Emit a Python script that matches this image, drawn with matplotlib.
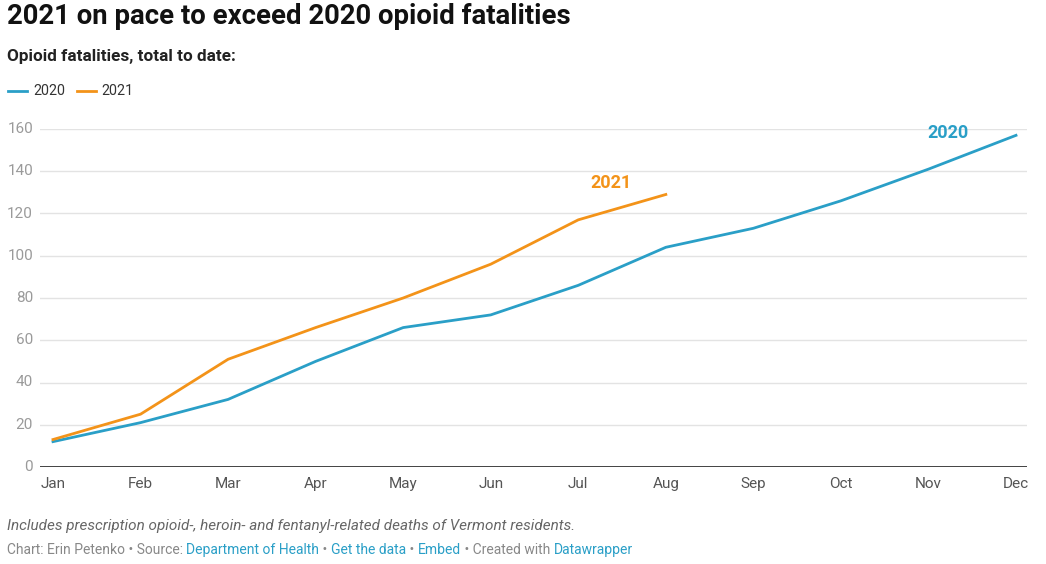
import matplotlib.pyplot as plt

plt.rcParams['font.family'] = ['Roboto', 'DejaVu Sans']

months = ['Jan', 'Feb', 'Mar', 'Apr', 'May', 'Jun', 'Jul', 'Aug', 'Sep', 'Oct', 'Nov', 'Dec']
deaths_2020 = [12, 21, 32, 50, 66, 72, 86, 104, 113, 126, 141, 157]
deaths_2021 = [13, 25, 51, 66, 80, 96, 117, 129]
yticks = [0, 20, 40, 60, 80, 100, 120, 140, 160]

BLUE = '#2a9fc7'
ORANGE = '#f39319'

fig = plt.figure(figsize=(10.46, 5.64), dpi=100)
# axes box: x 40..1027 px, y 129..467 px
ax = fig.add_axes([40 / 1046, 1 - 467 / 564, 987 / 1046, 338 / 564])

x = list(range(len(months)))
ax.plot(x, deaths_2020, color=BLUE, lw=2, clip_on=False, zorder=3)
ax.plot(x[:len(deaths_2021)], deaths_2021, color=ORANGE, lw=2, clip_on=False, zorder=4)

# x range so Jan sits at px 53 and Dec at px 1016
step = (1016 - 53) / 11
ax.set_xlim(-(53 - 40) / step, 11 + (1027 - 1016) / step)
ax.set_ylim(0, 160)

ax.set_yticks(yticks)
ax.set_yticklabels([])
for v in yticks:
    ax.text(-0.007, v, str(v), transform=ax.get_yaxis_transform(), ha='right', va='center',
            fontsize=11, color='#9a9a9a')
    if v > 0:
        ax.axhline(v, color='#e3e3e3', lw=1, zorder=1)
ax.axhline(0, color='#222222', lw=1.2, zorder=2)

ax.set_xticks(x)
ax.set_xticklabels(months, fontsize=11, color='#555555')
ax.tick_params(axis='x', length=0, pad=7)
ax.tick_params(axis='y', length=0)
for s in ax.spines.values():
    s.set_visible(False)

ax.text(10.22, 158, '2020', color=BLUE, fontsize=13, fontweight='bold', ha='center', va='center')
ax.text(6.37, 134.5, '2021', color=ORANGE, fontsize=13, fontweight='bold', ha='center', va='center')

fig.text(7 / 1046, 1 - 17 / 564, '2021 on pace to exceed 2020 opioid fatalities', fontsize=19.8,
         fontweight='bold', color='#111111', va='center')
fig.text(7 / 1046, 1 - 57 / 564, 'Opioid fatalities, total to date:', fontsize=12.3,
         fontweight='bold', color='#222222', va='center')

# legend
fig.lines.append(plt.Line2D([8 / 1046, 27 / 1046], [1 - 91 / 564] * 2, color=BLUE, lw=2,
                            transform=fig.transFigure))
fig.text(33 / 1046, 1 - 91 / 564, '2020', fontsize=10.3, color='#333333', va='center')
fig.lines.append(plt.Line2D([77 / 1046, 96 / 1046], [1 - 91 / 564] * 2, color=ORANGE, lw=2,
                            transform=fig.transFigure))
fig.text(101 / 1046, 1 - 91 / 564, '2021', fontsize=10.3, color='#333333', va='center')

fig.text(7 / 1046, 1 - 526 / 564,
         'Includes prescription opioid-, heroin- and fentanyl-related deaths of Vermont residents.',
         fontsize=11, style='italic', color='#666666', va='center')

# credits line with coloured links
parts = [('Chart: Erin Petenko \u2022 Source: ', '#888888'), ('Department of Health', BLUE),
         (' \u2022 ', '#888888'), ('Get the data', BLUE), (' \u2022 ', '#888888'),
         ('Embed', BLUE), (' \u2022 Created with ', '#888888'), ('Datawrapper', BLUE)]
fig.canvas.draw()
renderer = fig.canvas.get_renderer()
xpos = 7 / 1046
for txt, col in parts:
    t = fig.text(xpos, 1 - 550 / 564, txt, fontsize=10, color=col, va='center')
    bb = t.get_window_extent(renderer=renderer)
    xpos += bb.width / fig.bbox.width

fig.savefig('out.png', dpi=100)
